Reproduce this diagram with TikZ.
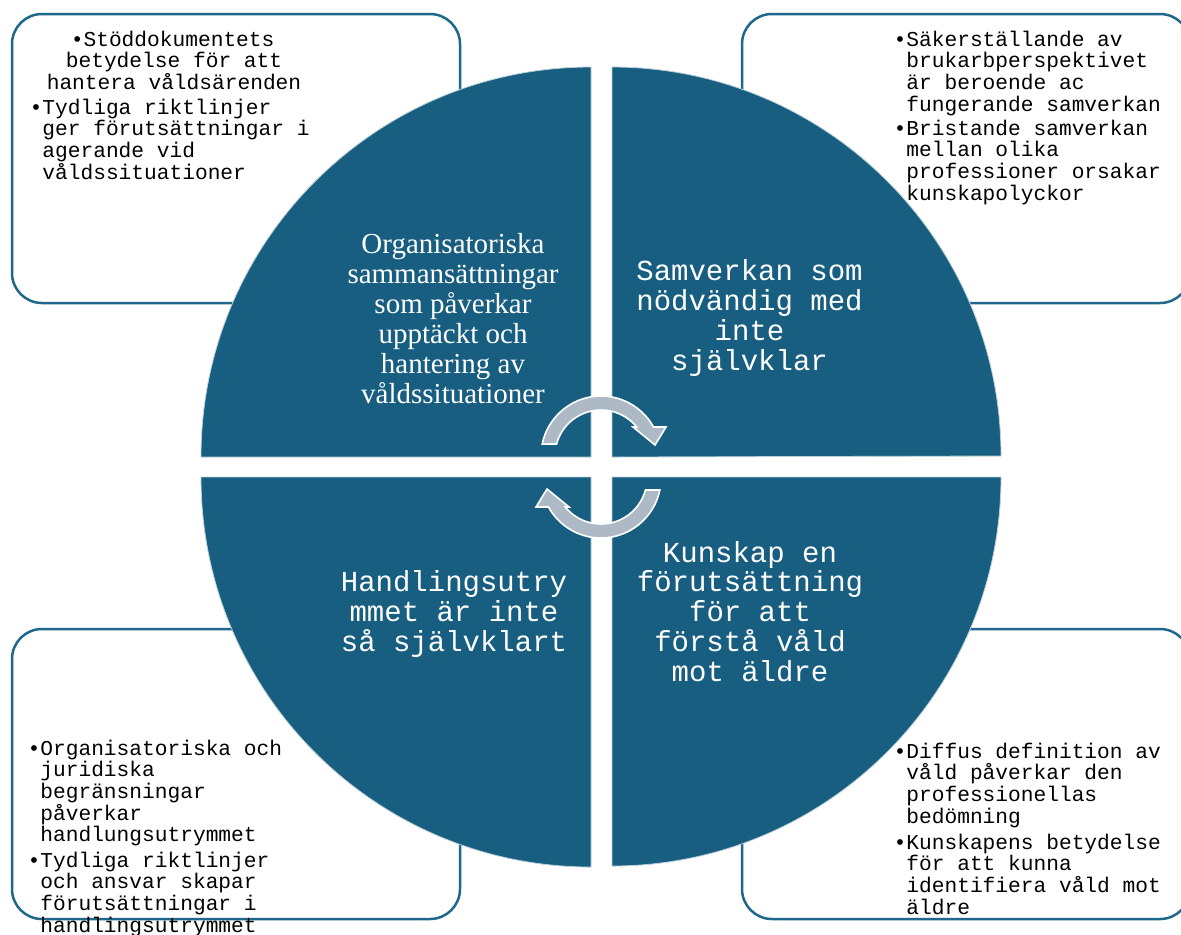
\documentclass[tikz,border=0pt]{standalone}
\usepackage{fontspec}
\newfontfamily\monofont{Liberation Mono}
\newfontfamily\serfont{Liberation Serif}
\newfontfamily\bulfont{Liberation Sans}
\definecolor{qblue}{RGB}{23,94,128}
\definecolor{bstroke}{RGB}{30,104,139}
\definecolor{arrfill}{RGB}{173,185,197}
\newcommand{\bul}{\makebox[5pt][l]{\bulfont •}}
\newcommand{\ind}{\hspace*{5pt}}
\begin{document}
\begin{tikzpicture}[x=0.5pt,y=-0.5pt,
 box/.style={draw=bstroke, line width=1.25pt, fill=white, rounded corners=15pt},
 quad/.style={fill=qblue, draw=white!70!qblue, line width=0.4pt},
 circarrow/.style={fill=arrfill, draw=white, line width=0.8pt},
 boxtext/.style={inner sep=0pt, align=left, anchor=base west, font=\monofont\fontsize{10.6}{10.85}\selectfont},
 quadtext/.style={inner sep=0pt, align=center, anchor=base, text=white, font=\monofont\fontsize{14.5}{14.85}\selectfont},
 sertext/.style={inner sep=0pt, align=center, anchor=base, text=white, font=\serfont\fontsize{14.5}{15}\selectfont}]
\useasboundingbox (0,0) rectangle (1181,934);
\clip (0,0) rectangle (1181,934);
% boxes
\draw[box] (12,14) rectangle (460,303);
\draw[box] (742,14) rectangle (1190,303);
\draw[box] (12,629) rectangle (460,919);
\draw[box] (742,629) rectangle (1190,919);
% quadrants
\path[quad] (591,457) -- (201,457) arc[start angle=180,end angle=270,radius=390] -- cycle;
\path[quad] (612,457) -- (612,67) arc[start angle=270,end angle=360,radius=389] -- cycle;
\path[quad] (612,477) -- (1001,477) arc[start angle=0,end angle=90,radius=389] -- cycle;
\path[quad] (591,477) -- (591,867) arc[start angle=90,end angle=180,radius=390] -- cycle;
% circular arrows
\path[circarrow] ([shift={(191.5:60)}]601,456) arc[start angle=191.5,end angle=331.1,radius=60]
  -- (666,427) -- (655,445) -- (633,427)
  -- ([shift={(320.9:46)}]601,456) arc[start angle=320.9,end angle=195.1,radius=46] -- cycle;
\begin{scope}[rotate around={180:(601,467)}]
\path[circarrow] ([shift={(191.5:60)}]601,456) arc[start angle=191.5,end angle=331.1,radius=60]
  -- (666,427) -- (655,445) -- (633,427)
  -- ([shift={(320.9:46)}]601,456) arc[start angle=320.9,end angle=195.1,radius=46] -- cycle;
\end{scope}
% quadrant texts (anchor = baseline of last line)
\node[sertext] (qtl) at (453,403) {Organisatoriska\\sammansättningar\\som påverkar\\upptäckt och\\hantering av\\våldssituationer};
\node[quadtext] (qtr) at (749.5,370) {Samverkan som\\nödvändig med\\inte\\självklar};
\node[quadtext] (qbr) at (750,681) {Kunskap en\\förutsättning\\för att\\förstå våld\\mot äldre};
\node[quadtext] (qbl) at (454,651) {Handlingsutry\\mmet är inte\\så självklart};
% box texts (anchor = baseline of last line)
\node[boxtext, align=center, anchor=base] (tl1) at (174,89.4) {\bul Stöddokumentets\\betydelse för att\\hantera våldsärenden};
\node[boxtext] (tl2) at (32,179.1) {\bul Tydliga riktlinjer\\\ind ger förutsättningar i\\\ind agerande vid\\\ind våldssituationer};
\node[boxtext] (tr1) at (896,111.1) {\bul Säkerställande av\\\ind brukarbperspektivet\\\ind är beroende ac\\\ind fungerande samverkan};
\node[boxtext] (tr2) at (896,200.1) {\bul Bristande samverkan\\\ind mellan olika\\\ind professioner orsakar\\\ind kunskapolyckor};
\node[boxtext] (bl1) at (30,841.8) {\bul Organisatoriska och\\\ind juridiska\\\ind begränsningar\\\ind påverkar\\\ind handlungsutrymmet};
\node[boxtext] (bl2) at (30,932.1) {\bul Tydliga riktlinjer\\\ind och ansvar skapar\\\ind förutsättningar i\\\ind handlingsutrymmet};
\node[boxtext] (br1) at (896,823.1) {\bul Diffus definition av\\\ind våld påverkar den\\\ind professionellas\\\ind bedömning};
\node[boxtext] (br2) at (896,914.1) {\bul Kunskapens betydelse\\\ind för att kunna\\\ind identifiera våld mot\\\ind äldre};
\end{tikzpicture}
\end{document}
